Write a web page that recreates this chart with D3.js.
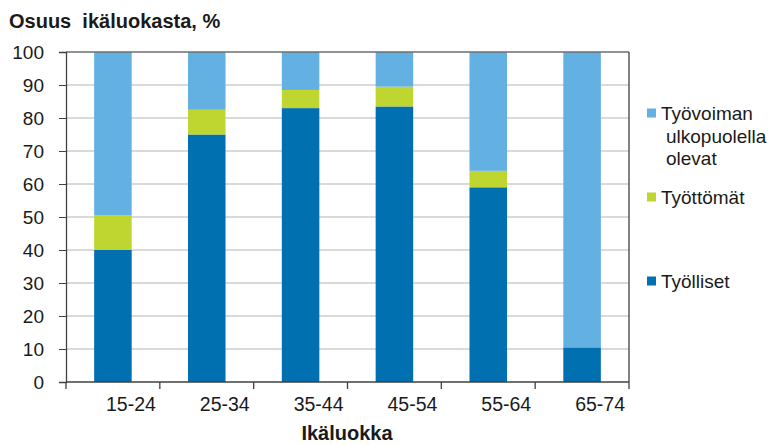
<!DOCTYPE html>
<html>
<head>
<meta charset="utf-8">
<script src="https://cdn.jsdelivr.net/npm/d3@7"></script>
<style>
  body { margin: 0; background: #fff; }
  text { font-family: "Liberation Sans", Arial, sans-serif; fill: #1a1a1a; }
</style>
</head>
<body>
<div id="chart"></div>
<script>
const ageGroups = ['15-24', '25-34', '35-44', '45-54', '55-64', '65-74'];
const employed = [40, 75, 83, 83.5, 59, 10.5];
const unemployed = [10.5, 7.5, 5.5, 6, 5, 0];
const outside = [49.5, 17.5, 11.5, 10.5, 36, 89.5];
const yTicks = [0, 10, 20, 30, 40, 50, 60, 70, 80, 90, 100];

const colors = ['#0070b0', '#c0d630', '#63b0e3'];

const width = 770, height = 445;
const margin = {top: 52, right: 141, bottom: 63, left: 66};
const w = width - margin.left - margin.right;
const h = height - margin.top - margin.bottom;

const svg = d3.select('#chart')
    .append('svg')
    .attr('width', width)
    .attr('height', height);

const g = svg.append('g')
    .attr('transform', 'translate(' + margin.left + ',' + margin.top + ')');

const x = d3.scaleBand().domain(ageGroups).range([0, w]).paddingInner(0.6).paddingOuter(0.3);
const y = d3.scaleLinear().domain([0, 100]).range([h, 0]);

// gridlines
g.selectAll('.grid')
    .data(yTicks.filter(d => d > 0 && d < 100))
    .enter().append('line')
    .attr('x1', 0).attr('x2', w)
    .attr('y1', d => y(d)).attr('y2', d => y(d))
    .attr('stroke', '#b4b4b4')
    .attr('stroke-width', 1);

// stacked bars
const rows = ageGroups.map((a, i) => ({age: a, s0: employed[i], s1: unemployed[i], s2: outside[i]}));
const stack = d3.stack().keys(['s0', 's1', 's2'])(rows);

g.selectAll('.layer')
    .data(stack)
    .enter().append('g')
    .attr('fill', (d, i) => colors[i])
    .selectAll('rect')
    .data(d => d)
    .enter().append('rect')
    .attr('x', d => x(d.data.age))
    .attr('width', x.bandwidth())
    .attr('y', d => y(d[1]))
    .attr('height', d => y(d[0]) - y(d[1]));

// frame: top and right
g.append('line').attr('x1', 0).attr('x2', w).attr('y1', 0).attr('y2', 0)
    .attr('stroke', '#6e6e6e').attr('stroke-width', 1.3);
g.append('line').attr('x1', w).attr('x2', w).attr('y1', 0).attr('y2', h)
    .attr('stroke', '#404040').attr('stroke-width', 1.3);

// y axis
const yAxis = g.append('g')
    .call(d3.axisLeft(y).tickValues(yTicks).tickSize(7).tickPadding(15));
yAxis.select('.domain').attr('stroke', '#404040').attr('stroke-width', 1.3);
yAxis.selectAll('.tick line').attr('stroke', '#404040');
yAxis.selectAll('text').attr('font-size', 19).attr('fill', '#1a1a1a')
    .attr('font-family', '"Liberation Sans", Arial, sans-serif');

// x axis, ticks at band boundaries
const xAxisG = g.append('g').attr('transform', 'translate(0,' + h + ')');
xAxisG.append('line').attr('x1', 0).attr('x2', w)
    .attr('stroke', '#404040').attr('stroke-width', 1.3);
const bounds = d3.range(ageGroups.length + 1).map(i => i * w / ageGroups.length);
xAxisG.selectAll('.xt').data(bounds).enter().append('line')
    .attr('x1', d => d).attr('x2', d => d)
    .attr('y1', 0).attr('y2', 7)
    .attr('stroke', '#404040').attr('stroke-width', 1.3);
xAxisG.selectAll('.xl').data(ageGroups).enter().append('text')
    .attr('x', d => x(d) + x.bandwidth() / 2 + 18)
    .attr('y', 29)
    .attr('text-anchor', 'middle')
    .attr('font-size', 19.5)
    .text(d => d);

// titles
svg.append('text')
    .attr('x', 9).attr('y', 28)
    .attr('font-size', 20).attr('font-weight', 'bold')
    .attr('xml:space', 'preserve')
    .text('Osuus  ikäluokasta, %');

svg.append('text')
    .attr('x', 347).attr('y', 440)
    .attr('text-anchor', 'middle')
    .attr('font-size', 20).attr('font-weight', 'bold')
    .text('Ikäluokka');

// legend
const legend = [
    {name: ['Työvoiman', 'ulkopuolella', 'olevat'], color: colors[2], y: 113},
    {name: ['Työttömät'], color: colors[1], y: 197},
    {name: ['Työlliset'], color: colors[0], y: 281}
];
const lg = svg.selectAll('.leg').data(legend).enter().append('g');
lg.append('rect')
    .attr('x', 647).attr('y', d => d.y - 4.5)
    .attr('width', 9).attr('height', 9)
    .attr('fill', d => d.color);
lg.append('text')
    .attr('x', 661).attr('y', d => d.y + 7)
    .attr('font-size', 19)
    .selectAll('tspan')
    .data(d => d.name)
    .enter().append('tspan')
    .attr('x', (d, i) => i === 0 ? 661 : 666)
    .attr('dy', (d, i) => i === 0 ? 0 : 22.5)
    .text(d => d);
</script>
</body>
</html>
